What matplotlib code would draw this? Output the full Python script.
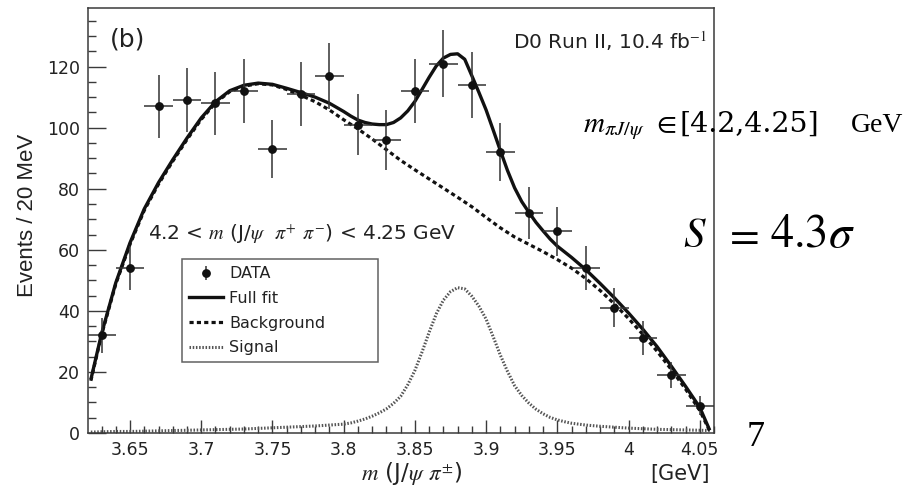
import numpy as np
import matplotlib
matplotlib.use("Agg")
import matplotlib.pyplot as plt
from matplotlib.lines import Line2D
from matplotlib.ticker import MultipleLocator

plt.rcParams['font.family'] = ['DejaVu Sans']
plt.rcParams['mathtext.fontset'] = 'stix'

# ---- data points (bin centres, counts, errors) ----
data_x = [3.63, 3.65, 3.67, 3.69, 3.71, 3.73, 3.75, 3.77, 3.79, 3.81, 3.83,
          3.85, 3.87, 3.89, 3.91, 3.93, 3.95, 3.97, 3.99, 4.01, 4.03, 4.05]
data_y = [32, 54, 107, 109, 108, 112, 93, 111, 117, 101, 96,
          112, 121, 114, 92, 72, 66, 54, 41, 31, 19, 9]
data_yerr = [5.7, 7.3, 10.3, 10.4, 10.4, 10.6, 9.6, 10.5, 10.8, 10.0, 9.8,
             10.6, 11.0, 10.7, 9.6, 8.5, 8.1, 7.3, 6.4, 5.6, 4.4, 3.0]
data_xerr = 0.01

# ---- full fit curve ----
fit_x = [3.6225, 3.63, 3.64, 3.65, 3.66, 3.67, 3.68, 3.69, 3.70, 3.71, 3.72,
         3.73, 3.74, 3.75, 3.76, 3.77, 3.78, 3.79,
         3.800, 3.805, 3.810, 3.815, 3.820, 3.825, 3.830, 3.835, 3.840, 3.845,
         3.850, 3.855, 3.860, 3.865, 3.870, 3.875, 3.880, 3.885, 3.890, 3.895,
         3.900, 3.905, 3.910, 3.915, 3.920, 3.925, 3.930, 3.935, 3.940, 3.945,
         3.950, 3.96, 3.97, 3.98, 3.99, 4.00, 4.01, 4.02, 4.03, 4.04, 4.05, 4.057]
fit_y = [17.5, 32.5, 49.2, 62.3, 73.4, 82.0, 89.5, 96.6, 103.2, 108.5, 112.1,
         113.9, 114.6, 114.2, 112.9, 111.5, 110.0, 108.0,
         105.3, 103.8, 102.5, 101.7, 101.2, 101.0, 101.0, 101.7, 103.2, 105.5,
         108.6, 112.5, 116.5, 120.2, 122.8, 124.0, 124.2, 122.4, 117.0, 111.5,
         105.8, 99.2, 92.5, 86.0, 80.3, 75.8, 72.3, 69.0, 66.2, 63.5,
         61.2, 57.5, 53.5, 49.0, 44.3, 39.3, 34.0, 28.3, 21.9, 15.3, 8.4, 0.9]

# ---- background curve ----
bkg_x = [3.6225, 3.63, 3.64, 3.65, 3.66, 3.67, 3.68, 3.69, 3.70, 3.71, 3.72,
         3.73, 3.74, 3.75, 3.76, 3.77, 3.78, 3.79, 3.80, 3.81, 3.82, 3.83,
         3.84, 3.85, 3.86, 3.87, 3.88, 3.89, 3.90, 3.91, 3.92, 3.93, 3.94,
         3.95, 3.96, 3.97, 3.98, 3.99, 4.00, 4.01, 4.02, 4.03, 4.04, 4.05, 4.057]
bkg_y = [17.1, 32.1, 48.8, 61.8, 72.9, 81.5, 89.0, 96.1, 102.7, 108.1, 111.8,
         113.6, 114.4, 114.0, 112.5, 110.6, 108.5, 105.8, 102.6, 99.6, 96.3, 92.8,
         89.3, 86.2, 83.2, 80.2, 77.2, 74.1, 70.6, 67.2, 64.2, 61.8, 59.4,
         56.8, 54.0, 50.6, 46.7, 42.3, 37.5, 32.3, 26.8, 20.8, 14.4, 7.4, 0.6]

# ---- signal curve ----
sig_x = [3.6225, 3.63, 3.64, 3.65, 3.66, 3.67, 3.68, 3.69, 3.70, 3.71, 3.72,
         3.73, 3.74, 3.75, 3.76, 3.77, 3.78, 3.79,
         3.800, 3.805, 3.810, 3.815, 3.820, 3.825, 3.830, 3.835, 3.840, 3.845,
         3.850, 3.855, 3.860, 3.865, 3.870, 3.875, 3.880, 3.885, 3.890, 3.895,
         3.900, 3.905, 3.910, 3.915, 3.920, 3.925, 3.930, 3.935, 3.940, 3.945,
         3.950, 3.955, 3.960, 3.97, 3.98, 3.99, 4.00, 4.01, 4.02, 4.03, 4.04,
         4.05, 4.057]
sig_y = [0.3, 0.4, 0.5, 0.5, 0.6, 0.7, 0.8, 0.9, 1.0, 1.1, 1.2,
         1.3, 1.5, 1.7, 1.9, 2.1, 2.3, 2.6,
         2.9, 3.3, 3.9, 4.6, 5.5, 6.6, 7.9, 9.7, 12.0, 15.8,
         20.5, 26.5, 33.0, 39.0, 43.5, 46.3, 47.6, 47.2, 44.8, 41.5,
         37.3, 31.5, 25.5, 20.2, 15.5, 12.3, 9.8, 7.8, 6.3, 5.1,
         4.3, 3.7, 3.2, 2.6, 2.2, 1.9, 1.6, 1.4, 1.2, 1.1, 1.0,
         0.9, 0.8]

x_ticks = [3.65, 3.7, 3.75, 3.8, 3.85, 3.9, 3.95, 4.0, 4.05]
x_ticklabels = ['3.65', '3.7', '3.75', '3.8', '3.85', '3.9', '3.95', '4', '4.05']
y_ticks = [0, 20, 40, 60, 80, 100, 120]

W, H = 904, 486
fig = plt.figure(figsize=(W / 100, H / 100), dpi=100)
ax = fig.add_axes([88 / W, 1 - 433 / H, 626 / W, 425 / H])

axcol = '#3a3a3a'
txtcol = '#222222'

# curves
ax.plot(sig_x, sig_y, color='#555555', lw=2.2, ls=(0, (0.5, 0.55)), zorder=2)
ax.plot(bkg_x, bkg_y, color='#111111', lw=2.3, ls=(0, (1.3, 1.0)), zorder=3)
ax.plot(fit_x, fit_y, color='#111111', lw=2.4, zorder=4, solid_capstyle='butt',
        solid_joinstyle='round')

# data
ax.errorbar(data_x, data_y, yerr=data_yerr, xerr=data_xerr, fmt='none',
            ecolor='#333333', elinewidth=1.1, capsize=0, zorder=5)
ax.plot(data_x, data_y, ls='none', marker='o', ms=5.3, color='#111111', zorder=6)

ax.set_xlim(3.6205, 4.06)
ax.set_ylim(0, 139.2)
ax.set_xticks(x_ticks)
ax.set_xticklabels(x_ticklabels)
ax.set_yticks(y_ticks)
ax.xaxis.set_minor_locator(MultipleLocator(0.01))
ax.yaxis.set_minor_locator(MultipleLocator(5))
ax.tick_params(axis='both', which='both', direction='in', colors=axcol,
               labelcolor=txtcol, labelsize=12.5, top=False, right=False)
ax.tick_params(axis='x', which='major', length=9.4, width=1.0, pad=6)
ax.tick_params(axis='x', which='minor', length=4.8, width=1.0)
ax.tick_params(axis='y', which='major', length=13, width=1.0, pad=6)
ax.tick_params(axis='y', which='minor', length=6, width=1.0)
for s in ax.spines.values():
    s.set_color(axcol)
    s.set_linewidth(1.1)

ax.set_ylabel('Events / 20 MeV', fontsize=16, color=txtcol,
              family=['Liberation Sans'])
ax.yaxis.set_label_coords(-0.096, 0.513)
ax.yaxis.label.set_va('center')

ax.set_xlabel(r'$m$ (J/$\psi$ $\pi^{\pm}$)', fontsize=16.5, color=txtcol)
ax.xaxis.set_label_coords(0.517, -0.111)
ax.xaxis.label.set_va('baseline')
ax.text(0.994, -0.111, '[GeV]', transform=ax.transAxes, ha='right',
        va='baseline', fontsize=15, color=txtcol)

ax.text(0.035, 0.955, '(b)', transform=ax.transAxes, ha='left', va='top',
        fontsize=18, color=txtcol)
ax.text(0.988, 0.905, r'D0 Run II, 10.4 fb$^{-1}$', transform=ax.transAxes,
        ha='right', va='baseline', fontsize=14.5, color=txtcol)
ax.text(0.096, 0.454, r'4.2 < $m$ (J/$\psi$  $\pi^{+}$ $\pi^{-}$) < 4.25 GeV',
        transform=ax.transAxes, ha='left', va='baseline', fontsize=14.5,
        color=txtcol)

# legend
h_data = (Line2D([], [], ls='none', marker='|', ms=10, mew=1.1, color='#333333'),
          Line2D([], [], ls='none', marker='o', ms=5.3, color='#111111'))
h_fit = Line2D([], [], color='#111111', lw=2.4)
h_bkg = Line2D([], [], color='#111111', lw=2.3, ls=(0, (1.3, 1.0)))
h_sig = Line2D([], [], color='#555555', lw=2.2, ls=(0, (0.5, 0.55)))
leg = ax.legend([h_data, h_fit, h_bkg, h_sig],
                ['DATA', 'Full fit', 'Background', 'Signal'],
                loc='upper left', bbox_to_anchor=(0.150, 0.162, 0.313, 0.247),
                mode='expand', borderaxespad=0, frameon=True, fancybox=False,
                edgecolor=axcol, handlelength=2.1, handletextpad=0.4,
                borderpad=0.45, labelspacing=0.6, fontsize=11.5)
leg.get_frame().set_linewidth(1.1)
for t in leg.get_texts():
    t.set_color(txtcol)

# slide annotations
base1 = 1 - 131.7 / H
fig.text(583 / W, base1, r'$m_{\pi J/\psi}$', fontsize=21, ha='left',
         va='baseline', color='black')
fig.text(652 / W, base1, r'$\in$', fontsize=21, ha='left', va='baseline',
         color='black')
fig.text(680 / W, base1, '[4.2,4.25]', fontsize=20.5, ha='left', va='baseline',
         family=['DejaVu Serif'], color='black')
fig.text(851 / W, base1, 'GeV', fontsize=20, ha='left', va='baseline',
         family=['Liberation Serif'], color='black')

base2 = 1 - 247 / H
fig.text(683 / W, base2, r'$S$', fontsize=31, ha='left', va='baseline',
         color='black')
fig.text(723 / W, base2, r'$=$', fontsize=31, ha='left', va='baseline',
         color='black')
fig.text(770 / W, base2, r'$4.3\sigma$', fontsize=33.5, ha='left', va='baseline',
         color='black')

fig.text(747 / W, 1 - 446 / H, '7', fontsize=26, ha='left', va='baseline',
         family=['Liberation Serif'], color='black')

fig.savefig('out.png', dpi=100)
